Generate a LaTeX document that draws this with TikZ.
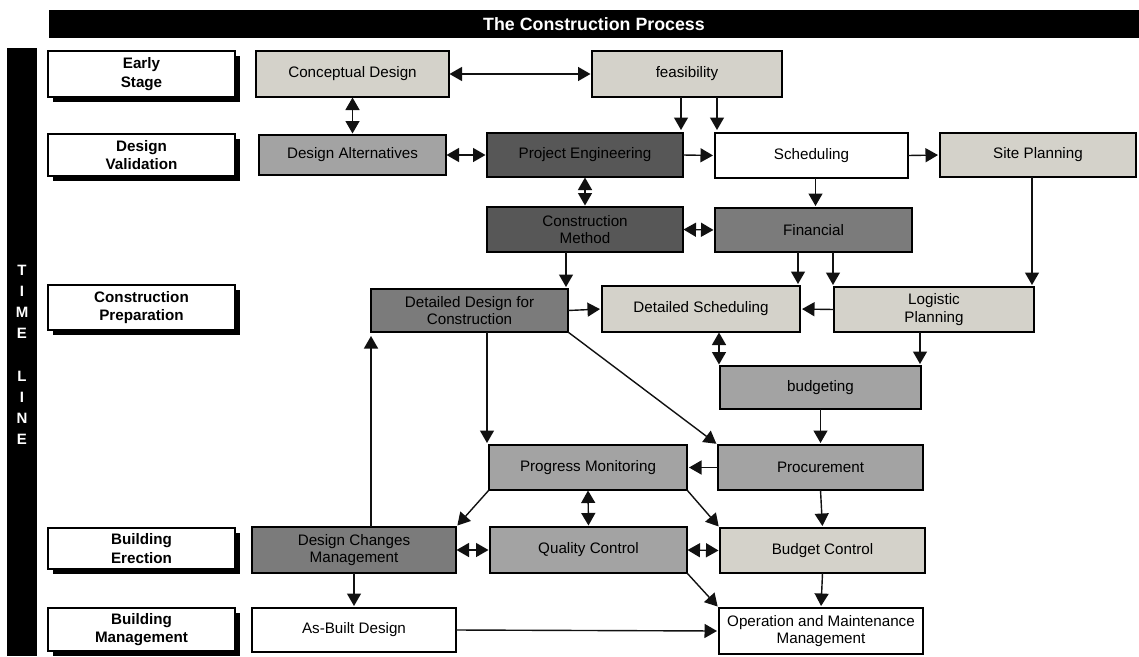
\documentclass[tikz,border=0pt]{standalone}
\usepackage{fontspec}
\setmainfont{Liberation Sans}
\usetikzlibrary{arrows.meta,shadows}

\definecolor{lightbox}{HTML}{D4D2CA}
\definecolor{midbox}{HTML}{A3A3A3}
\definecolor{darkmidbox}{HTML}{7B7B7B}
\definecolor{darkbox}{HTML}{575757}
\definecolor{linegray}{HTML}{111111}

\tikzset{
  proc/.style={draw=black, line width=2.4pt, inner sep=0pt, outer sep=0pt,
    align=center, text=black, font=\fontsize{15.2}{17.7}\selectfont},
  stage/.style={draw=black, fill=white, line width=2.6pt, inner sep=0pt, outer sep=0pt,
    align=center, font=\bfseries\fontsize{15.2}{18.3}\selectfont,
    drop shadow={shadow xshift=5pt, shadow yshift=-5pt, fill=black, opacity=1}},
  bar/.style={fill=black, inner sep=0pt, outer sep=0pt},
  tip/.tip={Triangle[length=12.5pt,width=14pt]},
  arr/.style={line width=1.4pt, draw=linegray, -tip, shorten >=2pt},
  darr/.style={line width=1.4pt, draw=linegray, tip-tip, shorten >=1.5pt, shorten <=0.5pt},
}

% process box: name, fill, x1, y1, x2, y2, text
\newcommand\procbox[7]{%
  \node[proc, fill=#2, minimum width={#5-#3}, minimum height={#6-#4}]
    (#1) at ({(#3+#5)/2},{(#4+#6)/2}) {#7};}
% stage label box: name, y1, y2, text
\newcommand\stagebox[4]{%
  \node[stage, minimum width=187, minimum height={#3-#2}]
    (#1) at (141.5,{(#2+#3)/2}) {#4};}

\begin{document}
\begin{tikzpicture}[x=1pt,y=-1pt]
\useasboundingbox (0,0) rectangle (1139,656);

% header and time line bars
\node[bar, minimum width=1090, minimum height=28, text=white,
  font=\bfseries\fontsize{17.8}{20}\selectfont] (title) at (594,24) {The Construction Process};
\node[bar, minimum width=30, minimum height=608] (timebar) at (22,352) {};
\node[anchor=north, inner sep=0pt, text=white, align=center,
  font=\bfseries\fontsize{15}{21}\selectfont] (timetext) at (22,265)
  {T\\I\\M\\E\\[22pt]L\\I\\N\\E};

% stages
\stagebox{sEarly}{51}{97}{Early\\Stage}
\stagebox{sDesign}{134}{176}{Design\\Validation}
\stagebox{sPrep}{285}{330}{Construction\\Preparation}
\stagebox{sErect}{528}{569}{Building\\Erection}
\stagebox{sMgmt}{608}{651}{Building\\Management}

% activities
\procbox{cd}{lightbox}{256}{51}{449}{97}{Conceptual Design}
\procbox{feas}{lightbox}{592}{51}{782}{97}{feasibility}
\procbox{da}{midbox}{259}{135}{446}{175}{Design Alternatives}
\procbox{pe}{darkbox}{487}{133}{683}{177}{Project Engineering}
\procbox{sched}{white}{715}{133}{908}{178}{Scheduling}
\procbox{site}{lightbox}{940}{133}{1136}{177}{Site Planning}
\procbox{cm}{darkbox}{487}{207}{683}{252}{Construction\\Method}
\procbox{fin}{darkmidbox}{715}{208}{912}{252}{Financial}
\procbox{ddc}{darkmidbox}{371}{289}{568}{332}{Detailed Design for\\Construction}
\procbox{ds}{lightbox}{602}{286}{800}{332}{Detailed Scheduling}
\procbox{lp}{lightbox}{834}{287}{1034}{332}{Logistic\\Planning}
\procbox{bud}{midbox}{720}{366}{921}{409}{budgeting}
\procbox{pm}{midbox}{489}{445}{687}{490}{Progress Monitoring}
\procbox{proc}{midbox}{718}{445}{923}{490}{Procurement}
\procbox{dcm}{darkmidbox}{252}{527}{456}{573}{Design Changes\\Management}
\procbox{qc}{midbox}{490}{527}{687}{573}{Quality Control}
\procbox{bc}{lightbox}{720}{528}{925}{573}{Budget Control}
\procbox{ab}{white}{252}{608}{456}{652}{As-Built Design}
\procbox{om}{white}{719}{608}{923}{654}{Operation and Maintenance\\Management}

% attachment points near box corners
\coordinate (peTop) at ([xshift=-2pt]pe.north east);
\coordinate (schedTop) at ([xshift=2pt]sched.north west);
\coordinate (schedBot) at ([xshift=4pt]sched.south);
\coordinate (dsTop) at ([xshift=-2pt]ds.north east);
\coordinate (lpTopL) at ([xshift=-1pt]lp.north west);
\coordinate (lpTopR) at ([xshift=-2pt]lp.north east);
\coordinate (ddcTop) at ([xshift=-2pt]ddc.north east);
\coordinate (budTopL) at ([xshift=-1pt]bud.north west);
\coordinate (budTopR) at ([xshift=-1pt]bud.north east);
\coordinate (pmTop) at ([xshift=-2pt]pm.north west);
\coordinate (ddcBot) at (ddc.south west);

% connectors
\draw[darr] (cd.east) -- (feas.west);
\draw[darr] (cd.south) -- (da.north);
\draw[darr] (da.east) -- (pe.west);
\draw[arr, shorten >=3pt] (feas.south -| peTop) -- (peTop);
\draw[arr, shorten >=3pt] (feas.south -| schedTop) -- (schedTop);
\draw[arr] (pe.east) -- (sched.west);
\draw[arr] (sched.east) -- (site.west);
\draw[darr] (pe.south) -- (cm.north);
\draw[darr] (cm.east) -- (fin.west);
\draw[arr] (schedBot) -- (schedBot |- fin.north);
\draw[arr] (fin.south -| dsTop) -- (dsTop);
\draw[arr] (fin.south -| lpTopL) -- (lpTopL);
\draw[arr] (site.south -| lpTopR) -- (lpTopR);
\draw[arr] (cm.south -| ddcTop) -- (ddcTop);
\draw[arr] (ddc.east) -- (ds.west);
\draw[arr] (lp.west) -- (ds.east);
\draw[darr] (ds.south -| budTopL) -- (budTopL);
\draw[arr] (lp.south -| budTopR) -- (budTopR);
\draw[arr] (bud.south) -- (proc.north);
\draw[arr] (proc.west) -- (pm.east);
\draw[arr] (ddc.south -| pmTop) -- (pmTop);
\draw[arr] (ddc.south east) -- (proc.north west);
\draw[arr] (pm.south west) -- (dcm.north east);
\draw[darr] (pm.south) -- (qc.north);
\draw[arr] (pm.south east) -- (bc.north west);
\draw[darr] (dcm.east) -- (qc.west);
\draw[darr] (qc.east) -- (bc.west);
\draw[arr] (proc.south) -- (bc.north);
\draw[arr] (qc.south east) -- (om.north west);
\draw[arr] (bc.south) -- (om.north);
\draw[arr] (dcm.south) -- (ab.north);
\draw[arr, shorten >=4pt] (dcm.north -| ddcBot) -- (ddcBot);
\draw[arr] (ab.east) -- (om.west);
\end{tikzpicture}
\end{document}
